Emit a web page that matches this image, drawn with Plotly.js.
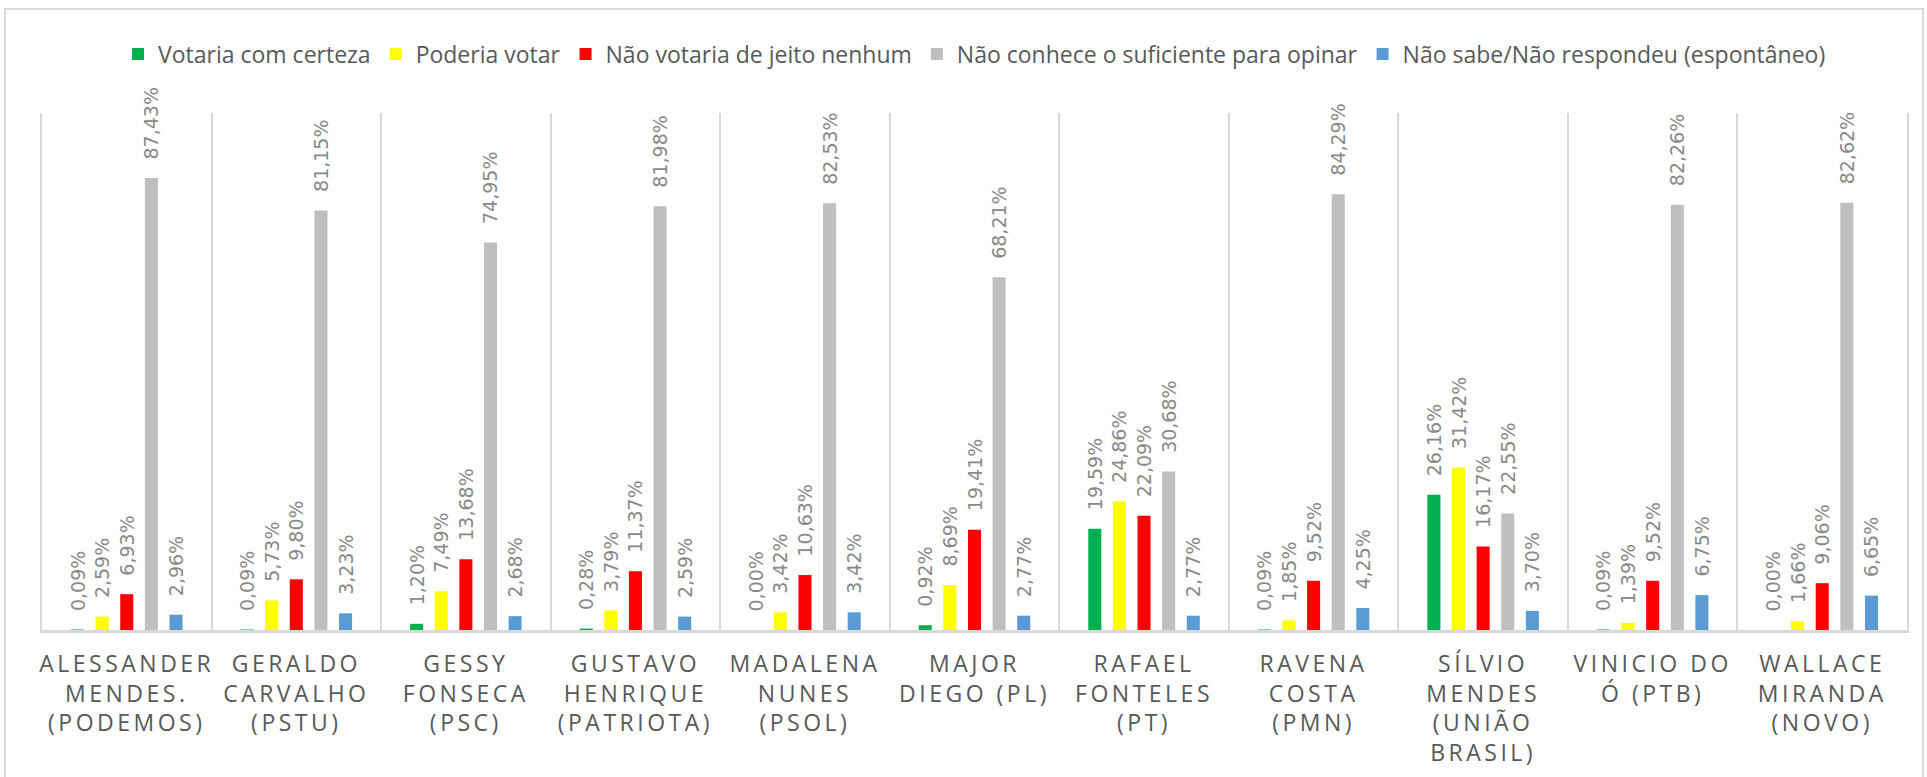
<!DOCTYPE html>
<html>
<head>
<meta charset="utf-8">
<script src="https://cdn.plot.ly/plotly-3.0.1.min.js"></script>
<style>
  html, body { margin: 0; padding: 0; background: #ffffff; }
  #chart { position: absolute; left: 0; top: 0; width: 1927px; height: 777px; }
  #frame { position: absolute; left: 4px; top: 8px; width: 1916px; height: 800px;
           border: 2px solid #d9d9d9; pointer-events: none; }
  .xtick text { letter-spacing: 3.5px; }
</style>
</head>
<body>
<div id="chart"></div>
<div id="frame"></div>
<script>
const categories = [
  "ALESSANDER<br>MENDES.<br>(PODEMOS)",
  "GERALDO<br>CARVALHO<br>(PSTU)",
  "GESSY<br>FONSECA<br>(PSC)",
  "GUSTAVO<br>HENRIQUE<br>(PATRIOTA)",
  "MADALENA<br>NUNES<br>(PSOL)",
  "MAJOR<br>DIEGO (PL)",
  "RAFAEL<br>FONTELES<br>(PT)",
  "RAVENA<br>COSTA<br>(PMN)",
  "SÍLVIO<br>MENDES<br>(UNIÃO<br>BRASIL)",
  "VINICIO DO<br>Ó (PTB)",
  "WALLACE<br>MIRANDA<br>(NOVO)"
];

const seriesNames = [
  "Votaria com certeza",
  "Poderia votar",
  "Não votaria de jeito nenhum",
  "Não conhece o suficiente para opinar",
  "Não sabe/Não respondeu (espontâneo)"
];

const votariaComCerteza = [0.09, 0.09, 1.20, 0.28, 0.00, 0.92, 19.59, 0.09, 26.16, 0.09, 0.00];
const poderiaVotar      = [2.59, 5.73, 7.49, 3.79, 3.42, 8.69, 24.86, 1.85, 31.42, 1.39, 1.66];
const naoVotaria        = [6.93, 9.80, 13.68, 11.37, 10.63, 19.41, 22.09, 9.52, 16.17, 9.52, 9.06];
const naoConhece        = [87.43, 81.15, 74.95, 81.98, 82.53, 68.21, 30.68, 84.29, 22.55, 82.26, 82.62];
const naoSabe           = [2.96, 3.23, 2.68, 2.59, 3.42, 2.77, 2.77, 4.25, 3.70, 6.75, 6.65];

const seriesValues = [votariaComCerteza, poderiaVotar, naoVotaria, naoConhece, naoSabe];
const colors = ["#00b050", "#ffff00", "#ff0000", "#bfbfbf", "#5b9bd5"];

const labelGap = 3.0; // gap (axis units) between bar top and its label

function fmt(v) { return v.toFixed(2).replace(".", ",") + "%"; }

const traces = [];
seriesValues.forEach((vals, i) => {
  traces.push({
    type: "bar",
    name: seriesNames[i],
    x: categories,
    y: vals,
    offsetgroup: String(i),
    marker: { color: colors[i] },
    hoverinfo: "skip"
  });
});
seriesValues.forEach((vals, i) => {
  traces.push({
    type: "bar",
    showlegend: false,
    x: categories,
    y: vals.map(() => labelGap),
    base: vals,
    offsetgroup: String(i),
    marker: { color: "rgba(0,0,0,0)" },
    text: vals.map(fmt),
    textposition: "outside",
    textangle: -90,
    constraintext: "none",
    cliponaxis: false,
    textfont: { family: "DejaVu Sans", size: 19, color: "#898989" },
    hoverinfo: "skip"
  });
});

const layout = {
  width: 1927,
  height: 777,
  margin: { l: 42, r: 20, t: 113, b: 147 },
  paper_bgcolor: "#ffffff",
  plot_bgcolor: "#ffffff",
  barmode: "group",
  bargap: 0.274,
  bargroupgap: 0.47,
  showlegend: true,
  legend: {
    orientation: "h",
    x: 0.5, xanchor: "center",
    y: 1.114, yanchor: "middle",
    font: { family: "Open Sans", size: 23, color: "#595959" },
    itemwidth: 30,
    traceorder: "normal"
  },
  xaxis: {
    type: "category",
    tickson: "boundaries",
    showgrid: true,
    gridcolor: "#d9d9d9",
    gridwidth: 2,
    showline: true,
    linecolor: "#d9d9d9",
    linewidth: 3,
    ticks: "",
    ticklabelstandoff: 11,
    tickangle: 0,
    tickfont: { family: "Open Sans", size: 23, color: "#595959" },
    fixedrange: true
  },
  yaxis: {
    range: [0, 100],
    showticklabels: false,
    showgrid: false,
    zeroline: false,
    showline: true,
    mirror: true,
    linecolor: "#d9d9d9",
    linewidth: 2,
    ticks: "",
    fixedrange: true
  }
};

Plotly.newPlot("chart", traces, layout, { displayModeBar: false, staticPlot: true });
</script>
</body>
</html>
